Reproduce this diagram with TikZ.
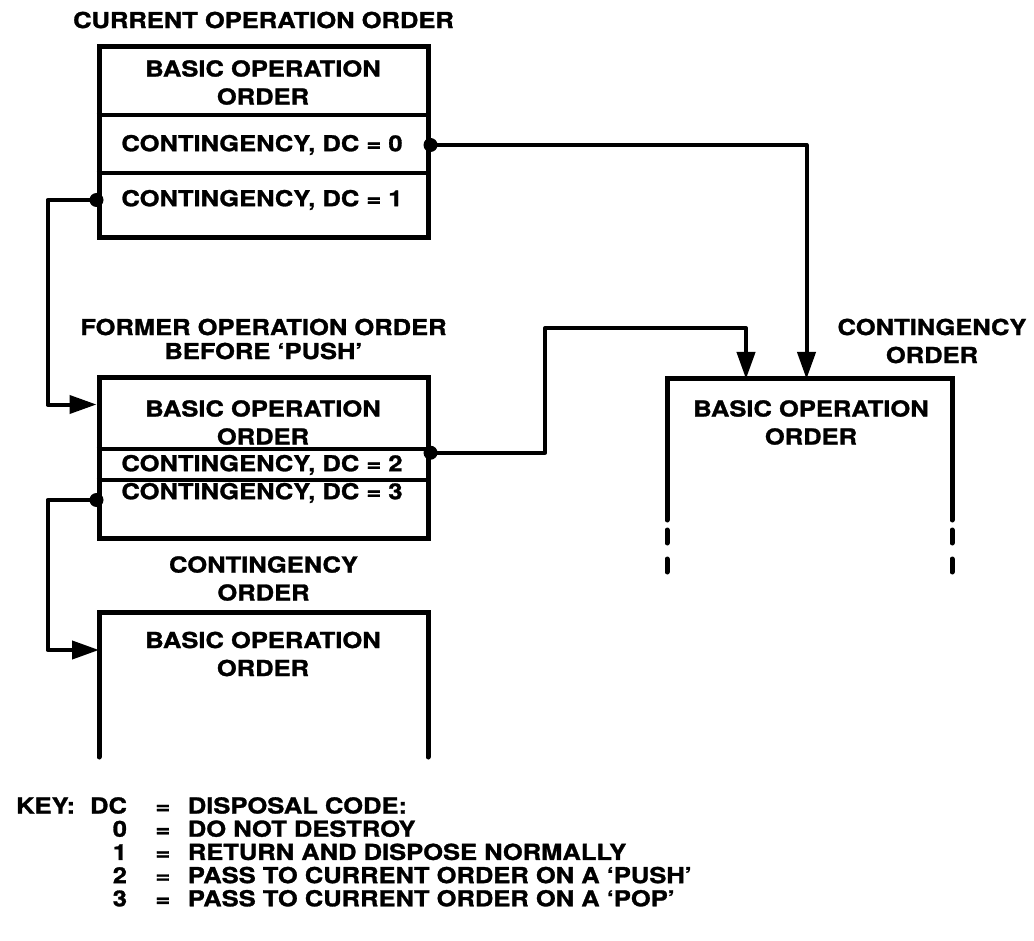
\documentclass[tikz,border=0pt]{standalone}
\usepackage{fontspec}
\newfontfamily\diagfont{TeX Gyre Heros}[FakeStretch=1.16, FakeBold=1.3]
\usetikzlibrary{arrows.meta,calc,positioning}
\tikzset{%
	orderbox/.style = {draw, rectangle, line width=5pt, minimum width=329pt, inner sep=0pt}, % closed order
	openbox/.style  = {rectangle, inner sep=0pt, outer sep=0pt}, % open order, sides drawn apart
	boxline/.style  = {line width=5pt, line cap=round},
	divider/.style  = {line width=4pt},
	lbl/.style      = {align=center, inner sep=2pt, font=\diagfont\bfseries\fontsize{22}{28}\selectfont},
	keytxt/.style   = {inner sep=0pt, font=\diagfont\bfseries\fontsize{22}{23}\selectfont},
	link/.style     = {line width=4pt, line join=round, -{Triangle[length=27pt,width=18pt]}},
	dotmark/.style  = {circle, fill, inner sep=0pt, minimum size=14pt},
}

\begin{document}
\begin{tikzpicture}[x=1pt, y=-1pt]
	\useasboundingbox (0,0) rectangle (1034,941);
	
	% current order
	\node[orderbox, minimum height=191pt] (cur) at (263.5,142.5) {};
	\node[lbl, above=14pt of cur] (curtitle) {CURRENT OPERATION ORDER};
	\node[lbl] (curbasic) at (263,82.5) {BASIC OPERATION\\ORDER};
	\node[lbl] (curdc0) at (262,145) {CONTINGENCY, DC = 0};
	\node[lbl] (curdc1) at (262,200) {CONTINGENCY, DC = 1};
	\coordinate (curcut1) at (263.5,115);
	\coordinate (curcut2) at (263.5,173);
	\draw[divider] (cur.west |- curcut1) -- (cur.east |- curcut1);
	\draw[divider] (cur.west |- curcut2) -- (cur.east |- curcut2);
	
	% former order
	\node[orderbox, minimum height=160pt] (fmr) at (263.5,458) {};
	\node[lbl, above=14pt of fmr] (fmrtitle) {FORMER OPERATION ORDER\\[-4pt]BEFORE ‘PUSH’};
	\node[lbl] (fmrbasic) at (263,422.5) {BASIC OPERATION\\ORDER};
	\node[lbl] (fmrdc2) at (262,465) {CONTINGENCY, DC = 2};
	\node[lbl] (fmrdc3) at (262,493) {CONTINGENCY, DC = 3};
	\coordinate (fmrcut1) at (263.5,449);
	\coordinate (fmrcut2) at (263.5,480);
	\draw[divider] (fmr.west |- fmrcut1) -- (fmr.east |- fmrcut1);
	\draw[divider] (fmr.west |- fmrcut2) -- (fmr.east |- fmrcut2);
	
	% contingency order below
	\node[openbox, minimum width=329pt, minimum height=145pt] (low) at (263.5,684.5) {};
	\node[lbl, above=9pt of low] (lowtitle) {CONTINGENCY\\ORDER};
	\node[lbl] (lowbasic) at (263,654) {BASIC OPERATION\\ORDER};
	\draw[boxline] (low.south west) -- (low.north west) -- (low.north east) -- (low.south east);
	
	% contingency order right
	\node[openbox, minimum width=285pt, minimum height=141pt] (rgt) at (809.5,449.5) {};
	\node[lbl] (rgttitle) at (932,341) {CONTINGENCY\\ORDER};
	\node[lbl] (rgtbasic) at (811,422.5) {BASIC OPERATION\\ORDER};
	\draw[boxline] (rgt.south west) -- (rgt.north west) -- (rgt.north east) -- (rgt.south east);
	\draw[boxline, dash pattern=on 13pt off 16pt] ([yshift=-10pt]rgt.south west) -- ([yshift=-52pt]rgt.south west);
	\draw[boxline, dash pattern=on 13pt off 16pt] ([yshift=-10pt]rgt.south east) -- ([yshift=-52pt]rgt.south east);
	
	% links
	\coordinate (jog) at (545,328);
	\draw[link] (cur.east |- curdc0) node[dotmark] (dot0) {} -| ([xshift=-3pt]rgt.north);
	\draw[link] (cur.west |- curdc1) node[dotmark] (dot1) {} -- ++(-49,0) |- ([yshift=-29pt]fmr.north west);
	\draw[link] (fmr.east |- fmrdc2.north) node[dotmark] (dot2) {} -| (jog) -| ([xshift=-63.5pt]rgt.north);
	\draw[link] ($(fmr.west |- fmrdc3)+(0,7)$) node[dotmark] (dot3) {} -- ++(-49,0) |- ([yshift=-38pt]low.north west);
	
	% key
	\node[keytxt, anchor=north west] (key) at (16,797) {%
		\begin{tabular}{@{}l@{\hspace{15pt}}r@{\hspace{28.5pt}}c@{\hspace{17.5pt}}l@{}}
			KEY: & DC & = & DISPOSAL CODE:\\
			& 0 & = & DO NOT DESTROY\\
			& 1 & = & RETURN AND DISPOSE NORMALLY\\
			& 2 & = & PASS TO CURRENT ORDER ON A ‘PUSH’\\
			& 3 & = & PASS TO CURRENT ORDER ON A ‘POP’
		\end{tabular}};
\end{tikzpicture}
\end{document}
